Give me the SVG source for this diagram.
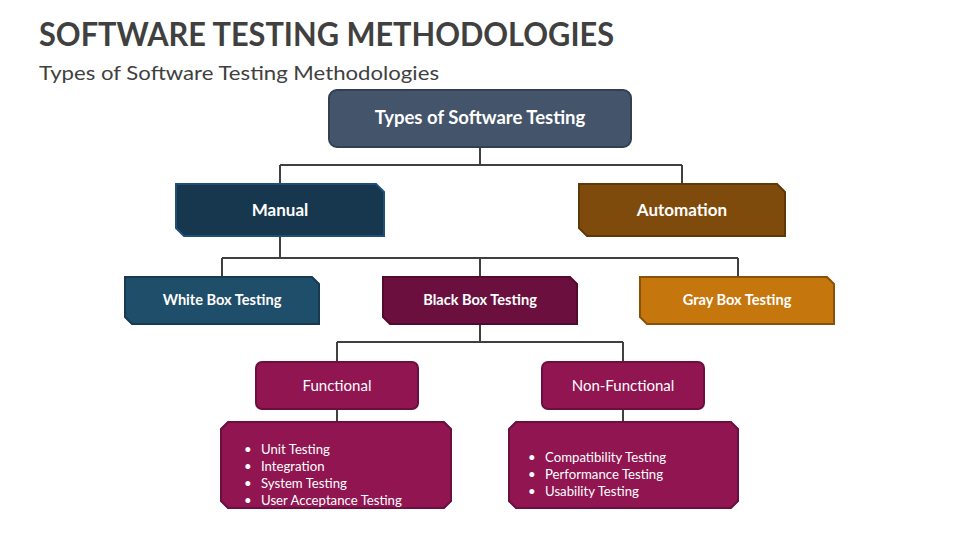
<svg xmlns="http://www.w3.org/2000/svg" width="960" height="540" viewBox="0 0 960 540">
<style>
text{font-family:Lato,"Open Sans","Liberation Sans",sans-serif}
.t{font-weight:bold;fill:#fff;text-anchor:middle}
.c{fill:none;stroke:#404040;stroke-width:2}
.li{fill:#fff;font-size:13.2px}
</style>
<rect width="960" height="540" fill="#fff"/>
<text x="39" y="46" font-size="32" font-weight="bold" fill="#404040" textLength="575" lengthAdjust="spacingAndGlyphs">SOFTWARE TESTING METHODOLOGIES</text>
<text x="39" y="80" font-size="20" fill="#404040" textLength="400" lengthAdjust="spacingAndGlyphs">Types of Software Testing Methodologies</text>
<g id="connectors">
<path class="c" d="M480 147V165M280 165H682M280 165V184M682 165V184"/>
<path class="c" d="M280 236V258M222 258H738M222 258V277M480 258V277M738 258V277"/>
<path class="c" d="M480 324V342M337 342H623M337 342V362M623 342V362"/>
<path class="c" d="M337 409V422M623 409V422"/>
</g>
<g id="root">
<rect x="329" y="90" width="302" height="57" rx="8" fill="#44546a" stroke="#333f50" stroke-width="2"/>
<text class="t" x="480" y="124" font-size="18.5">Types of Software Testing</text>
</g>
<g id="manual">
<path d="M176 184H376L384 192V236H184L176 228Z" fill="#17374f" stroke="#1f4e79" stroke-width="2"/>
<text class="t" x="280" y="216" font-size="17">Manual</text>
</g>
<g id="automation">
<path d="M579 184H777L785 192V236H587L579 228Z" fill="#7f4b0c" stroke="#5e3806" stroke-width="2"/>
<text class="t" x="682" y="216" font-size="17">Automation</text>
</g>
<g id="whitebox">
<path d="M125 277H312L319 284V324H132L125 317Z" fill="#1f4e6b" stroke="#173a52" stroke-width="2"/>
<text class="t" x="222" y="305" font-size="14.6">White Box Testing</text>
</g>
<g id="blackbox">
<path d="M383 277H570L577 284V324H390L383 317Z" fill="#6a0f3e" stroke="#520a2f" stroke-width="2"/>
<text class="t" x="480" y="305" font-size="14.6">Black Box Testing</text>
</g>
<g id="graybox">
<path d="M640 277H827L834 284V324H647L640 317Z" fill="#c5760d" stroke="#8a5208" stroke-width="2"/>
<text class="t" x="737" y="305" font-size="14.6">Gray Box Testing</text>
</g>
<g id="functional">
<rect x="256" y="362" width="162" height="47" rx="6" fill="#901550" stroke="#6a0f3e" stroke-width="2"/>
<text x="337" y="391" font-size="15" fill="#fff" text-anchor="middle">Functional</text>
</g>
<g id="nonfunctional">
<rect x="542" y="362" width="162" height="47" rx="6" fill="#901550" stroke="#6a0f3e" stroke-width="2"/>
<text x="623" y="391" font-size="15" fill="#fff" text-anchor="middle">Non-Functional</text>
</g>
<g id="functional-list">
<path d="M228 422H444L451 429V501L444 508H228L221 501V429Z" fill="#901550" stroke="#6a0f3e" stroke-width="2"/>
<text class="li" x="244" y="454">•</text><text class="li" x="261" y="454">Unit Testing</text>
<text class="li" x="244" y="471">•</text><text class="li" x="261" y="471">Integration</text>
<text class="li" x="244" y="488">•</text><text class="li" x="261" y="488">System Testing</text>
<text class="li" x="244" y="505">•</text><text class="li" x="261" y="505">User Acceptance Testing</text>
</g>
<g id="nonfunctional-list">
<path d="M516 422H731L738 429V501L731 508H516L509 501V429Z" fill="#901550" stroke="#6a0f3e" stroke-width="2"/>
<text class="li" x="528" y="462">•</text><text class="li" x="545" y="462">Compatibility Testing</text>
<text class="li" x="528" y="479">•</text><text class="li" x="545" y="479">Performance Testing</text>
<text class="li" x="528" y="496">•</text><text class="li" x="545" y="496">Usability Testing</text>
</g>
</svg>
